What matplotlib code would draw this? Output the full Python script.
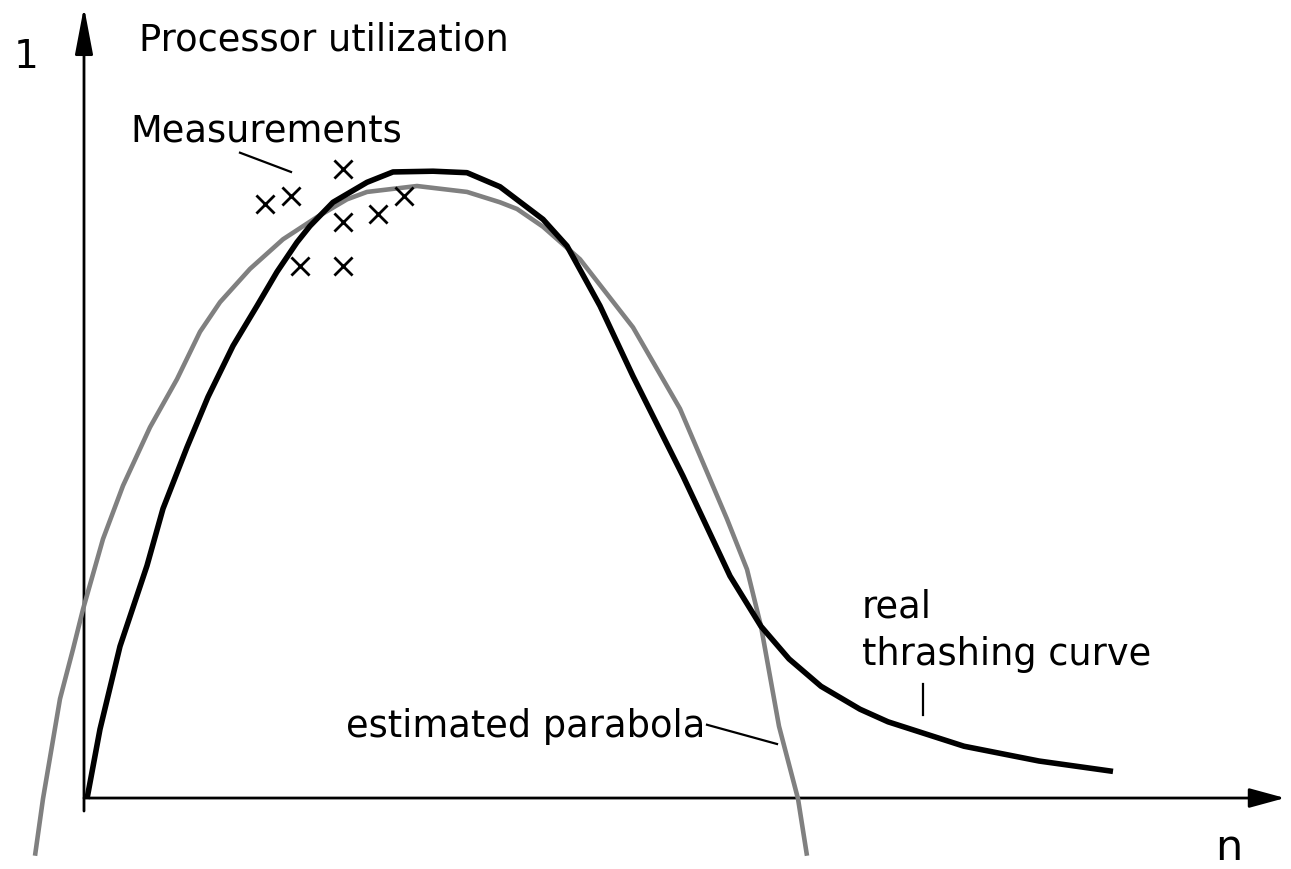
import matplotlib
matplotlib.use("Agg")
import matplotlib.pyplot as plt

# real thrashing curve (n, utilization)
real_n = [0.03, 0.16, 0.36, 0.63, 0.79, 1.03, 1.24, 1.49, 1.73, 1.93, 2.13, 2.26,
          2.49, 2.83, 3.09, 3.49, 3.83, 4.16, 4.59, 4.83, 5.16, 5.49, 5.99, 6.46,
          6.77, 7.05, 7.37, 7.76, 8.04, 8.80, 9.55, 10.29]
real_u = [-0.001, 0.093, 0.205, 0.314, 0.391, 0.474, 0.542, 0.611, 0.665, 0.711,
          0.751, 0.773, 0.805, 0.832, 0.846, 0.847, 0.845, 0.826, 0.782, 0.746,
          0.665, 0.570, 0.435, 0.300, 0.232, 0.188, 0.151, 0.120, 0.103, 0.070,
          0.050, 0.036]

# estimated parabola
par_n = [-0.49, -0.41, -0.24, -0.11, -0.01, 0.19, 0.39, 0.66, 0.93, 1.16, 1.36,
         1.66, 1.99, 2.33, 2.63, 2.83, 3.33, 3.83, 4.16, 4.33, 4.59, 4.96, 5.49,
         5.96, 6.43, 6.63, 6.77, 6.95, 7.14, 7.23]
par_u = [-0.078, -0.001, 0.134, 0.201, 0.255, 0.350, 0.422, 0.501, 0.566, 0.630,
         0.670, 0.715, 0.755, 0.785, 0.809, 0.819, 0.827, 0.819, 0.805, 0.796,
         0.772, 0.728, 0.636, 0.526, 0.377, 0.309, 0.232, 0.097, -0.001, -0.078]

# measurements
meas_n = [1.81, 2.07, 2.59, 2.59, 2.94, 3.20, 2.16, 2.59]
meas_u = [0.803, 0.814, 0.850, 0.778, 0.789, 0.814, 0.719, 0.719]

plt.rcParams["font.family"] = ["DejaVu Sans"]

fig = plt.figure(figsize=(12.91, 8.7), dpi=100)
ax = fig.add_axes([0, 0, 1, 1])
ax.set_xlim(-0.84, 12.07)
ax.set_ylim(-0.0959, 1.0797)
ax.axis("off")

# axes with arrow heads
ax.annotate("", xy=(0.0, 1.069), xytext=(0.0, -0.0176),
            arrowprops=dict(arrowstyle="-|>,head_length=2.9,head_width=0.55",
                            mutation_scale=10, lw=2, color="black",
                            shrinkA=0, shrinkB=0))
ax.annotate("", xy=(12.01, 0.0), xytext=(0.0, 0.0),
            arrowprops=dict(arrowstyle="-|>,head_length=2.2,head_width=0.6",
                            mutation_scale=10, lw=2, color="black",
                            shrinkA=0, shrinkB=0))

ax.plot(par_n, par_u, color="#808080", lw=3.3, solid_joinstyle="round",
        solid_capstyle="butt", zorder=3)
ax.plot(real_n, real_u, color="black", lw=4.0, solid_joinstyle="round",
        solid_capstyle="butt", zorder=4)
ax.scatter(meas_n, meas_u, marker="x", s=170, color="black", linewidths=2.0, zorder=5)

fs = 26.5
ax.text(-0.70, 1.003, "1", fontsize=28, va="center", ha="left")
ax.text(0.55, 1.012, "Processor utilization", fontsize=fs, va="baseline", ha="left")
ax.text(0.46, 0.888, "Measurements", fontsize=fs, va="baseline", ha="left")
ax.text(2.62, 0.084, "estimated parabola", fontsize=fs, va="baseline", ha="left")
ax.text(7.78, 0.245, "real", fontsize=fs, va="baseline", ha="left")
ax.text(7.78, 0.181, "thrashing curve", fontsize=fs, va="baseline", ha="left")
ax.text(11.31, -0.082, "n", fontsize=31, va="baseline", ha="left")

# leader lines
ax.plot([1.56, 2.07], [0.872, 0.846], color="black", lw=1.6)
ax.plot([6.23, 6.93], [0.099, 0.073], color="black", lw=1.6)
ax.plot([8.39, 8.39], [0.154, 0.112], color="black", lw=1.6)

fig.savefig("out.png", dpi=100)
